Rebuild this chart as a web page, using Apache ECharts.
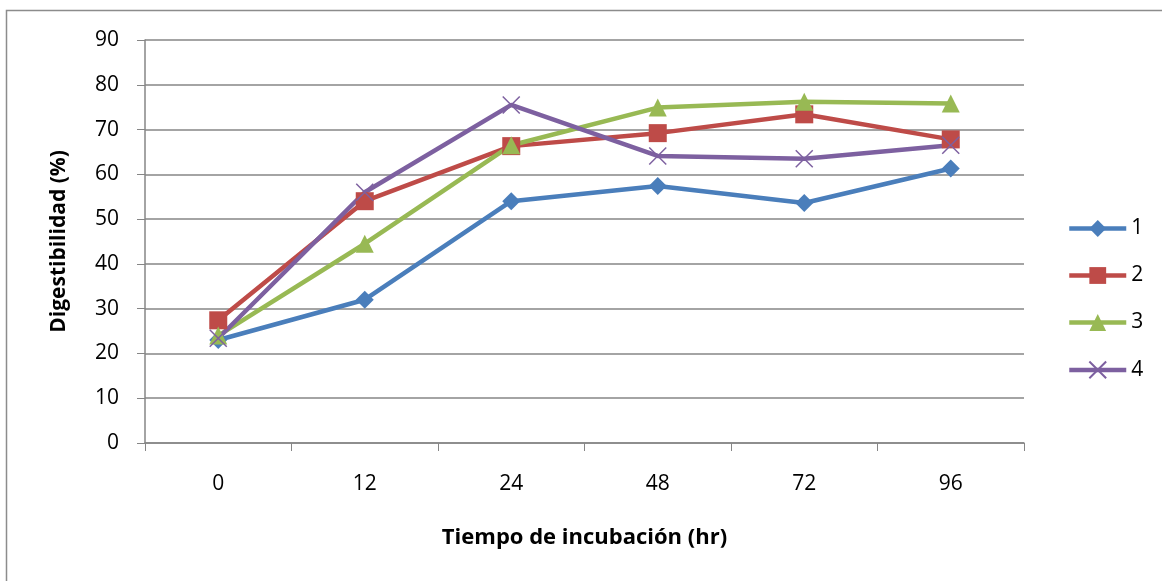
<!DOCTYPE html>
<html>
<head>
<meta charset="utf-8">
<script src="https://cdn.jsdelivr.net/npm/echarts@6/dist/echarts.min.js"></script>
<style>
  html, body { margin: 0; padding: 0; background: #fff; }
  #digestibilidad { width: 1162px; height: 581px; }
</style>
</head>
<body>
<div id="digestibilidad"></div>
<script>
// tiempos de incubacion (hr)
const categories = ["0", "12", "24", "48", "72", "96"];
const serie1 = [23, 32, 54, 57.4, 53.6, 61.3];
const serie2 = [27.4, 54, 66.3, 69.2, 73.4, 67.8];
const serie3 = [24, 44.5, 66.5, 74.9, 76.2, 75.8];
const serie4 = [23.4, 56, 75.5, 64.1, 63.5, 66.5];
const seriesNames = ["1", "2", "3", "4"];

const colors = ["#4a7ebb", "#be4b48", "#98b954", "#7d60a0"];
const fontFam = "'Open Sans', 'Noto Sans', sans-serif";

let chart = echarts.init(document.getElementById("digestibilidad"));

function makeLine(name, data, color, symbol, size, extra) {
  return Object.assign({
    name: name,
    type: "line",
    data: data,
    symbol: symbol,
    symbolSize: size,
    showAllSymbol: true,
    lineStyle: { color: color, width: 4.5 },
    itemStyle: { color: color, borderColor: color, borderWidth: 0 },
    z: 3
  }, extra || {});
}

let option = {
  animation: false,
  backgroundColor: "#fff",
  graphic: [
    {
      // marco exterior del grafico
      type: "rect",
      shape: { x: 6.5, y: 10.5, width: 1200, height: 600 },
      style: { fill: "none", stroke: "#8c8c8c", lineWidth: 1.5 },
      silent: true
    }
  ],
  legend: {
    orient: "vertical",
    left: 1062,
    top: 213,
    itemGap: 26,
    itemWidth: 57,
    itemHeight: 21,
    data: seriesNames,
    lineStyle: { width: 4.5 },
    textStyle: { color: "#000", fontSize: 21, fontFamily: fontFam }
  },
  grid: {
    left: 145,
    right: 138,
    top: 40,
    bottom: 138,
    containLabel: false
  },
  xAxis: {
    type: "category",
    data: categories,
    name: "Tiempo de incubación (hr)",
    nameLocation: "middle",
    nameGap: 84,
    nameTextStyle: { color: "#000", fontSize: 22, fontWeight: "bold", fontFamily: fontFam },
    axisLine: { lineStyle: { color: "#868686", width: 1.5 } },
    axisTick: { show: true, length: 8, lineStyle: { color: "#868686" } },
    axisLabel: { color: "#000", fontSize: 21, margin: 31, fontFamily: fontFam },
    splitLine: { show: false }
  },
  yAxis: {
    type: "value",
    min: 0,
    max: 90,
    interval: 10,
    name: "Digestibilidad (%)",
    nameLocation: "middle",
    nameGap: 75,
    nameTextStyle: { color: "#000", fontSize: 21, fontWeight: "bold", fontFamily: fontFam },
    axisLine: { show: true, lineStyle: { color: "#868686", width: 1.5 } },
    axisTick: { show: true, length: 8, lineStyle: { color: "#868686" } },
    axisLabel: { color: "#000", fontSize: 21, margin: 26, fontFamily: fontFam },
    splitLine: { show: true, lineStyle: { color: "#868686", width: 1.5 } }
  },
  series: [
    makeLine(seriesNames[0], serie1, colors[0], "diamond", 18),
    makeLine(seriesNames[1], serie2, colors[1], "rect", 18),
    makeLine(seriesNames[2], serie3, colors[2], "triangle", 18),
    makeLine(seriesNames[3], serie4, colors[3], "path://M0,0L10,10M10,0L0,10", 17, {
      itemStyle: { color: "none", borderColor: colors[3], borderWidth: 1.5 }
    })
  ]
};

chart.setOption(option);
</script>
</body>
</html>
